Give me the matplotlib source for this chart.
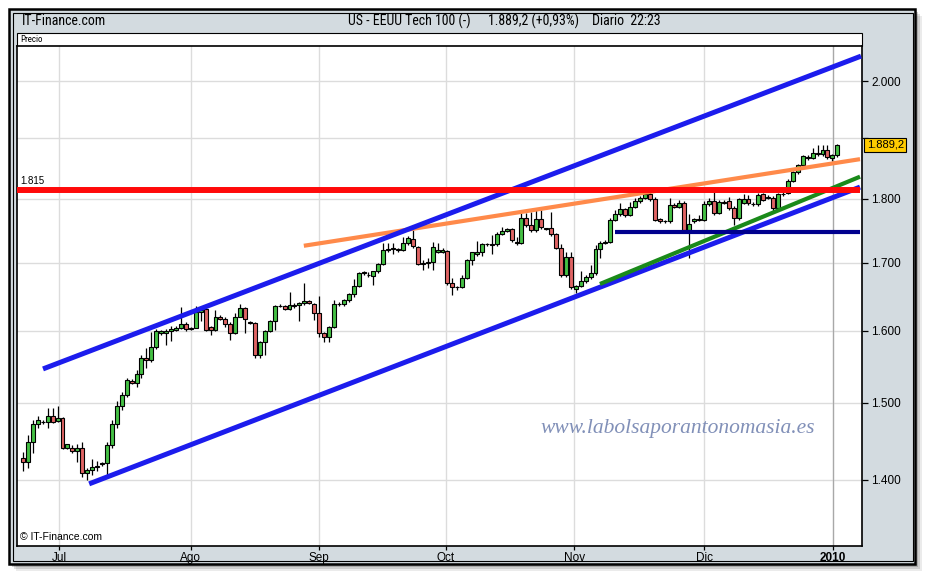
import matplotlib
matplotlib.use("Agg")
import matplotlib.pyplot as plt
import matplotlib.transforms as mtransforms
from matplotlib import font_manager
from matplotlib.patches import Rectangle
from matplotlib.ticker import FixedLocator, FuncFormatter, NullLocator

# daily candles, one per session (index 0 = late June 2009)
opens = [1428, 1423, 1448, 1472, 1474, 1475, 1482, 1476, 1479, 1441,
         1441, 1437, 1441, 1408, 1412, 1416, 1420, 1421, 1444, 1472,
         1495, 1510, 1529, 1526, 1539, 1561, 1558, 1576, 1597, 1597,
         1600, 1601, 1603, 1609, 1602, 1604, 1627, 1631, 1605, 1601,
         1620, 1617, 1610, 1597, 1620, 1632, 1612, 1611, 1566, 1583,
         1599, 1614, 1635, 1635, 1631, 1637, 1637, 1640, 1643, 1638,
         1625, 1596, 1591, 1605, 1639, 1638, 1644, 1653, 1665, 1686,
         1681, 1680, 1687, 1698, 1720, 1721, 1721, 1719, 1730, 1736,
         1724, 1700, 1700, 1701, 1717, 1717, 1718, 1669, 1663, 1664,
         1677, 1704, 1713, 1716, 1728, 1728, 1728, 1744, 1749, 1752,
         1732, 1731, 1769, 1758, 1751, 1768, 1752, 1753, 1744, 1723,
         1681, 1709, 1661, 1665, 1672, 1678, 1684, 1721, 1731, 1732,
         1767, 1775, 1784, 1774, 1787, 1796, 1802, 1808, 1800, 1768,
         1764, 1764, 1790, 1787, 1793, 1751, 1764, 1768, 1767, 1791,
         1797, 1778, 1795, 1796, 1786, 1769, 1794, 1799, 1792, 1791,
         1807, 1801, 1802, 1786, 1807, 1809, 1829, 1843, 1855, 1867,
         1867, 1876, 1873, 1880, 1867, 1872]
highs = [1435, 1457, 1477, 1482, 1477, 1493, 1493, 1495, 1481, 1446,
         1444, 1446, 1448, 1415, 1427, 1424, 1423, 1448, 1477, 1502,
         1514, 1533, 1532, 1544, 1565, 1575, 1598, 1602, 1601, 1602,
         1606, 1607, 1634, 1612, 1605, 1635, 1631, 1634, 1606, 1630,
         1622, 1619, 1612, 1625, 1638, 1634, 1613, 1612, 1585, 1601,
         1615, 1637, 1638, 1637, 1656, 1640, 1642, 1670, 1645, 1640,
         1650, 1598, 1607, 1644, 1642, 1646, 1654, 1676, 1686, 1688,
         1686, 1688, 1700, 1731, 1731, 1731, 1723, 1740, 1741, 1750,
         1726, 1704, 1707, 1732, 1730, 1722, 1720, 1677, 1665, 1681,
         1706, 1717, 1733, 1730, 1730, 1743, 1748, 1756, 1754, 1753,
         1740, 1777, 1777, 1779, 1782, 1782, 1754, 1779, 1746, 1729,
         1717, 1717, 1667, 1687, 1681, 1696, 1727, 1733, 1735, 1769,
         1782, 1793, 1786, 1795, 1801, 1805, 1810, 1813, 1803, 1770,
         1766, 1801, 1793, 1798, 1797, 1775, 1770, 1774, 1797, 1802,
         1814, 1798, 1798, 1803, 1788, 1801, 1807, 1806, 1795, 1809,
         1810, 1806, 1805, 1810, 1811, 1832, 1846, 1857, 1872, 1872,
         1883, 1889, 1889, 1889, 1874, 1891]
lows = [1411, 1415, 1434, 1466, 1472, 1466, 1473, 1475, 1439, 1439,
        1434, 1422, 1403, 1400, 1406, 1411, 1417, 1405, 1441, 1467,
        1490, 1508, 1525, 1521, 1534, 1547, 1555, 1574, 1594, 1579,
        1585, 1599, 1602, 1600, 1601, 1603, 1614, 1600, 1594, 1600,
        1615, 1605, 1586, 1595, 1619, 1597, 1609, 1561, 1561, 1565,
        1598, 1601, 1634, 1629, 1630, 1633, 1614, 1637, 1638, 1615,
        1591, 1584, 1584, 1603, 1636, 1635, 1642, 1649, 1663, 1682,
        1679, 1666, 1685, 1696, 1717, 1714, 1716, 1718, 1727, 1722,
        1696, 1689, 1692, 1689, 1715, 1715, 1666, 1651, 1659, 1662,
        1675, 1696, 1711, 1710, 1726, 1714, 1726, 1742, 1747, 1732,
        1727, 1729, 1756, 1748, 1748, 1752, 1750, 1741, 1721, 1679,
        1678, 1661, 1654, 1663, 1669, 1675, 1681, 1707, 1729, 1730,
        1764, 1773, 1771, 1772, 1785, 1794, 1800, 1797, 1764, 1762,
        1762, 1762, 1785, 1785, 1748, 1707, 1761, 1765, 1765, 1788,
        1774, 1775, 1791, 1782, 1758, 1766, 1792, 1790, 1788, 1789,
        1796, 1799, 1777, 1784, 1805, 1807, 1827, 1841, 1853, 1864,
        1865, 1870, 1871, 1866, 1862, 1869]
closes = [1423, 1448, 1472, 1477, 1475, 1482, 1475, 1480, 1441, 1445,
          1437, 1441, 1408, 1412, 1416, 1417, 1421, 1444, 1472, 1495,
          1510, 1531, 1526, 1539, 1561, 1558, 1576, 1600, 1599, 1600,
          1602, 1604, 1609, 1602, 1603, 1627, 1629, 1601, 1601, 1620,
          1617, 1610, 1597, 1620, 1632, 1617, 1611, 1566, 1583, 1599,
          1614, 1635, 1636, 1631, 1637, 1636, 1640, 1643, 1640, 1625,
          1596, 1591, 1605, 1639, 1638, 1644, 1653, 1665, 1684, 1684,
          1682, 1687, 1698, 1719, 1721, 1722, 1719, 1730, 1738, 1725,
          1698, 1698, 1701, 1724, 1720, 1719, 1669, 1663, 1664, 1677,
          1704, 1716, 1716, 1728, 1729, 1727, 1744, 1749, 1752, 1735,
          1731, 1769, 1758, 1751, 1768, 1755, 1753, 1744, 1723, 1681,
          1709, 1663, 1665, 1672, 1678, 1684, 1721, 1731, 1732, 1767,
          1775, 1784, 1774, 1787, 1796, 1802, 1808, 1800, 1766, 1764,
          1765, 1790, 1787, 1793, 1751, 1760, 1768, 1767, 1791, 1797,
          1778, 1795, 1794, 1786, 1769, 1799, 1799, 1793, 1791, 1806,
          1798, 1803, 1786, 1807, 1808, 1829, 1843, 1855, 1870, 1868,
          1876, 1873, 1880, 1869, 1872, 1889]

month_pos = [7.3, 34.0, 60.0, 85.7, 111.7, 138.0, 164.1]
month_labels = ["Jul", "Ago", "Sep", "Oct", "Nov", "Dic", "2010"]
price_ticks = [1400, 1500, 1600, 1700, 1800, 1900, 2000]

# hand drawn studies: (x0, x1), (price0, price1)
upper_channel = ([4.05, 169.8], [1546, 2045])
lower_channel = ([13.4, 169.6], [1395, 1819])
orange_trend = ([56.9, 169.6], [1726, 1865])
green_trend = ([116.9, 169.6], [1668, 1836])
red_level = 1815
navy_level = 1748
navy_start = 120.0
last_price = 1889.2

W, H = 926, 576

installed = {f.name for f in font_manager.fontManager.ttflist}


def pick(*names):
    for n in names:
        if n in installed:
            return n
    return "DejaVu Sans"


SANS = pick("Liberation Sans", "Arial")
NARROW = pick("Liberation Sans Narrow", "Arial Narrow", "Roboto Condensed", "Liberation Sans")
SERIF = pick("Liberation Serif", "DejaVu Serif")
plt.rcParams["font.family"] = [SANS, "DejaVu Sans"]

fig = plt.figure(figsize=(W / 100, H / 100), dpi=100)
fig.patch.set_facecolor("white")

# frame, header and shadow in pixel coordinates
bg = fig.add_axes([0, 0, 1, 1])
bg.set_xlim(0, W)
bg.set_ylim(H, 0)
bg.axis("off")
for k, a in [(7, 0.08), (5, 0.12), (3, 0.18)]:
    bg.add_patch(Rectangle((9 + k, 9 + k), 906, 555, facecolor="black", alpha=a, edgecolor="none"))
bg.add_patch(Rectangle((9, 9), 906, 555, facecolor="#d3dbe0", edgecolor="black", lw=1.8))
bg.add_patch(Rectangle((12.5, 12.5), 900, 548, facecolor="none", edgecolor="black", lw=0.8))
bg.add_patch(Rectangle((17, 33), 845, 13, facecolor="white", edgecolor="black", lw=0.8))
bg.text(20, 39.5, "Precio", fontsize=6.5, va="center", family=[NARROW, "DejaVu Sans"])
hdr = dict(fontsize=10, va="center", family=[NARROW, "DejaVu Sans"], color="black")
bg.text(22, 21, "IT-Finance.com", **hdr)
bg.text(348, 21, "US - EEUU Tech 100 (-)", **hdr)
bg.text(488, 21, "1.889,2 (+0,93%)", **hdr)
bg.text(592, 21, "Diario  22:23", **hdr)

ax = fig.add_axes([17 / W, 30 / H, 845 / W, 500 / H])
ax.set_facecolor("white")
ax.set_yscale("log")

idx = list(range(len(closes)))
bottoms = [min(o, c) for o, c in zip(opens, closes)]
heights = [max(abs(c - o), 0.6) for o, c in zip(opens, closes)]
colors = ["#44c044" if c >= o else "#e06464" for o, c in zip(opens, closes)]
ax.vlines(idx, lows, highs, color="black", lw=0.9, zorder=3)
ax.bar(idx, heights, bottom=bottoms, width=0.8, color=colors,
       edgecolor="black", linewidth=0.8, zorder=3)

line_kw = dict(solid_capstyle="butt", zorder=5)
ax.plot(*orange_trend, color="#ff8a4a", lw=3.0, **line_kw)
ax.plot(*upper_channel, color="#1c1ced", lw=3.6, **line_kw)
ax.plot(*lower_channel, color="#1c1ced", lw=3.6, **line_kw)
ax.plot(*green_trend, color="#1a8a1a", lw=3.0, **line_kw)
ax.plot([navy_start, 169.6], [navy_level, navy_level], color="#00008e", lw=3.0, **line_kw)
ax.plot([-1.3, 169.6], [red_level, red_level], color="#ff0a0a", lw=4.3, **line_kw)

ax.set_xlim(-1.22, 170.0)
ax.set_ylim(1319.6, 2063.6)

ax.set_axisbelow(True)
ax.grid(True, color="#dcdcdc", lw=1.0)
ax.axvline(month_pos[-1], color="#a8a8a8", lw=0.9, zorder=1)


def price_label(v, p):
    # the 1.900 label sits under the last-price marker
    if abs(v - 1900) < 1:
        return ""
    return f"{v:,.0f}".replace(",", ".")


ax.yaxis.tick_right()
ax.yaxis.set_major_locator(FixedLocator(price_ticks))
ax.yaxis.set_minor_locator(NullLocator())
ax.yaxis.set_major_formatter(FuncFormatter(price_label))
ax.set_xticks(month_pos)
ax.set_xticklabels(month_labels)
ax.get_xticklabels()[-1].set_fontweight("bold")
ax.tick_params(axis="y", direction="out", length=4, width=0.9, pad=2.5, labelsize=8.5)
ax.tick_params(axis="x", direction="out", length=3, width=0.9, pad=1.5, labelsize=8.5)
for s in ax.spines.values():
    s.set_linewidth(1.2)
    s.set_color("black")

blend = mtransforms.blended_transform_factory(ax.transAxes, ax.transData)
ax.text(1.0055, last_price, "1.889,2", transform=blend, fontsize=8, va="center", ha="left",
        clip_on=False, zorder=10,
        bbox=dict(boxstyle="square,pad=0.2", fc="#ffcc00", ec="black", lw=0.8))
ax.annotate("1.815", (0.004, red_level), xycoords=blend, xytext=(0, 2.5),
            textcoords="offset points", fontsize=7, va="bottom", zorder=7)
ax.text(0.003, 0.018, "\u00a9 IT-Finance.com", transform=ax.transAxes, fontsize=7.5,
        va="center", ha="left")

fig.text(540 / W, 1 - 428 / H, "www.labolsaporantonomasia.es", family=[SERIF, "DejaVu Serif"],
         style="italic", fontsize=15.5, color="#8190b8", va="center", ha="left")

fig.savefig("out.png", dpi=100, facecolor="white")
